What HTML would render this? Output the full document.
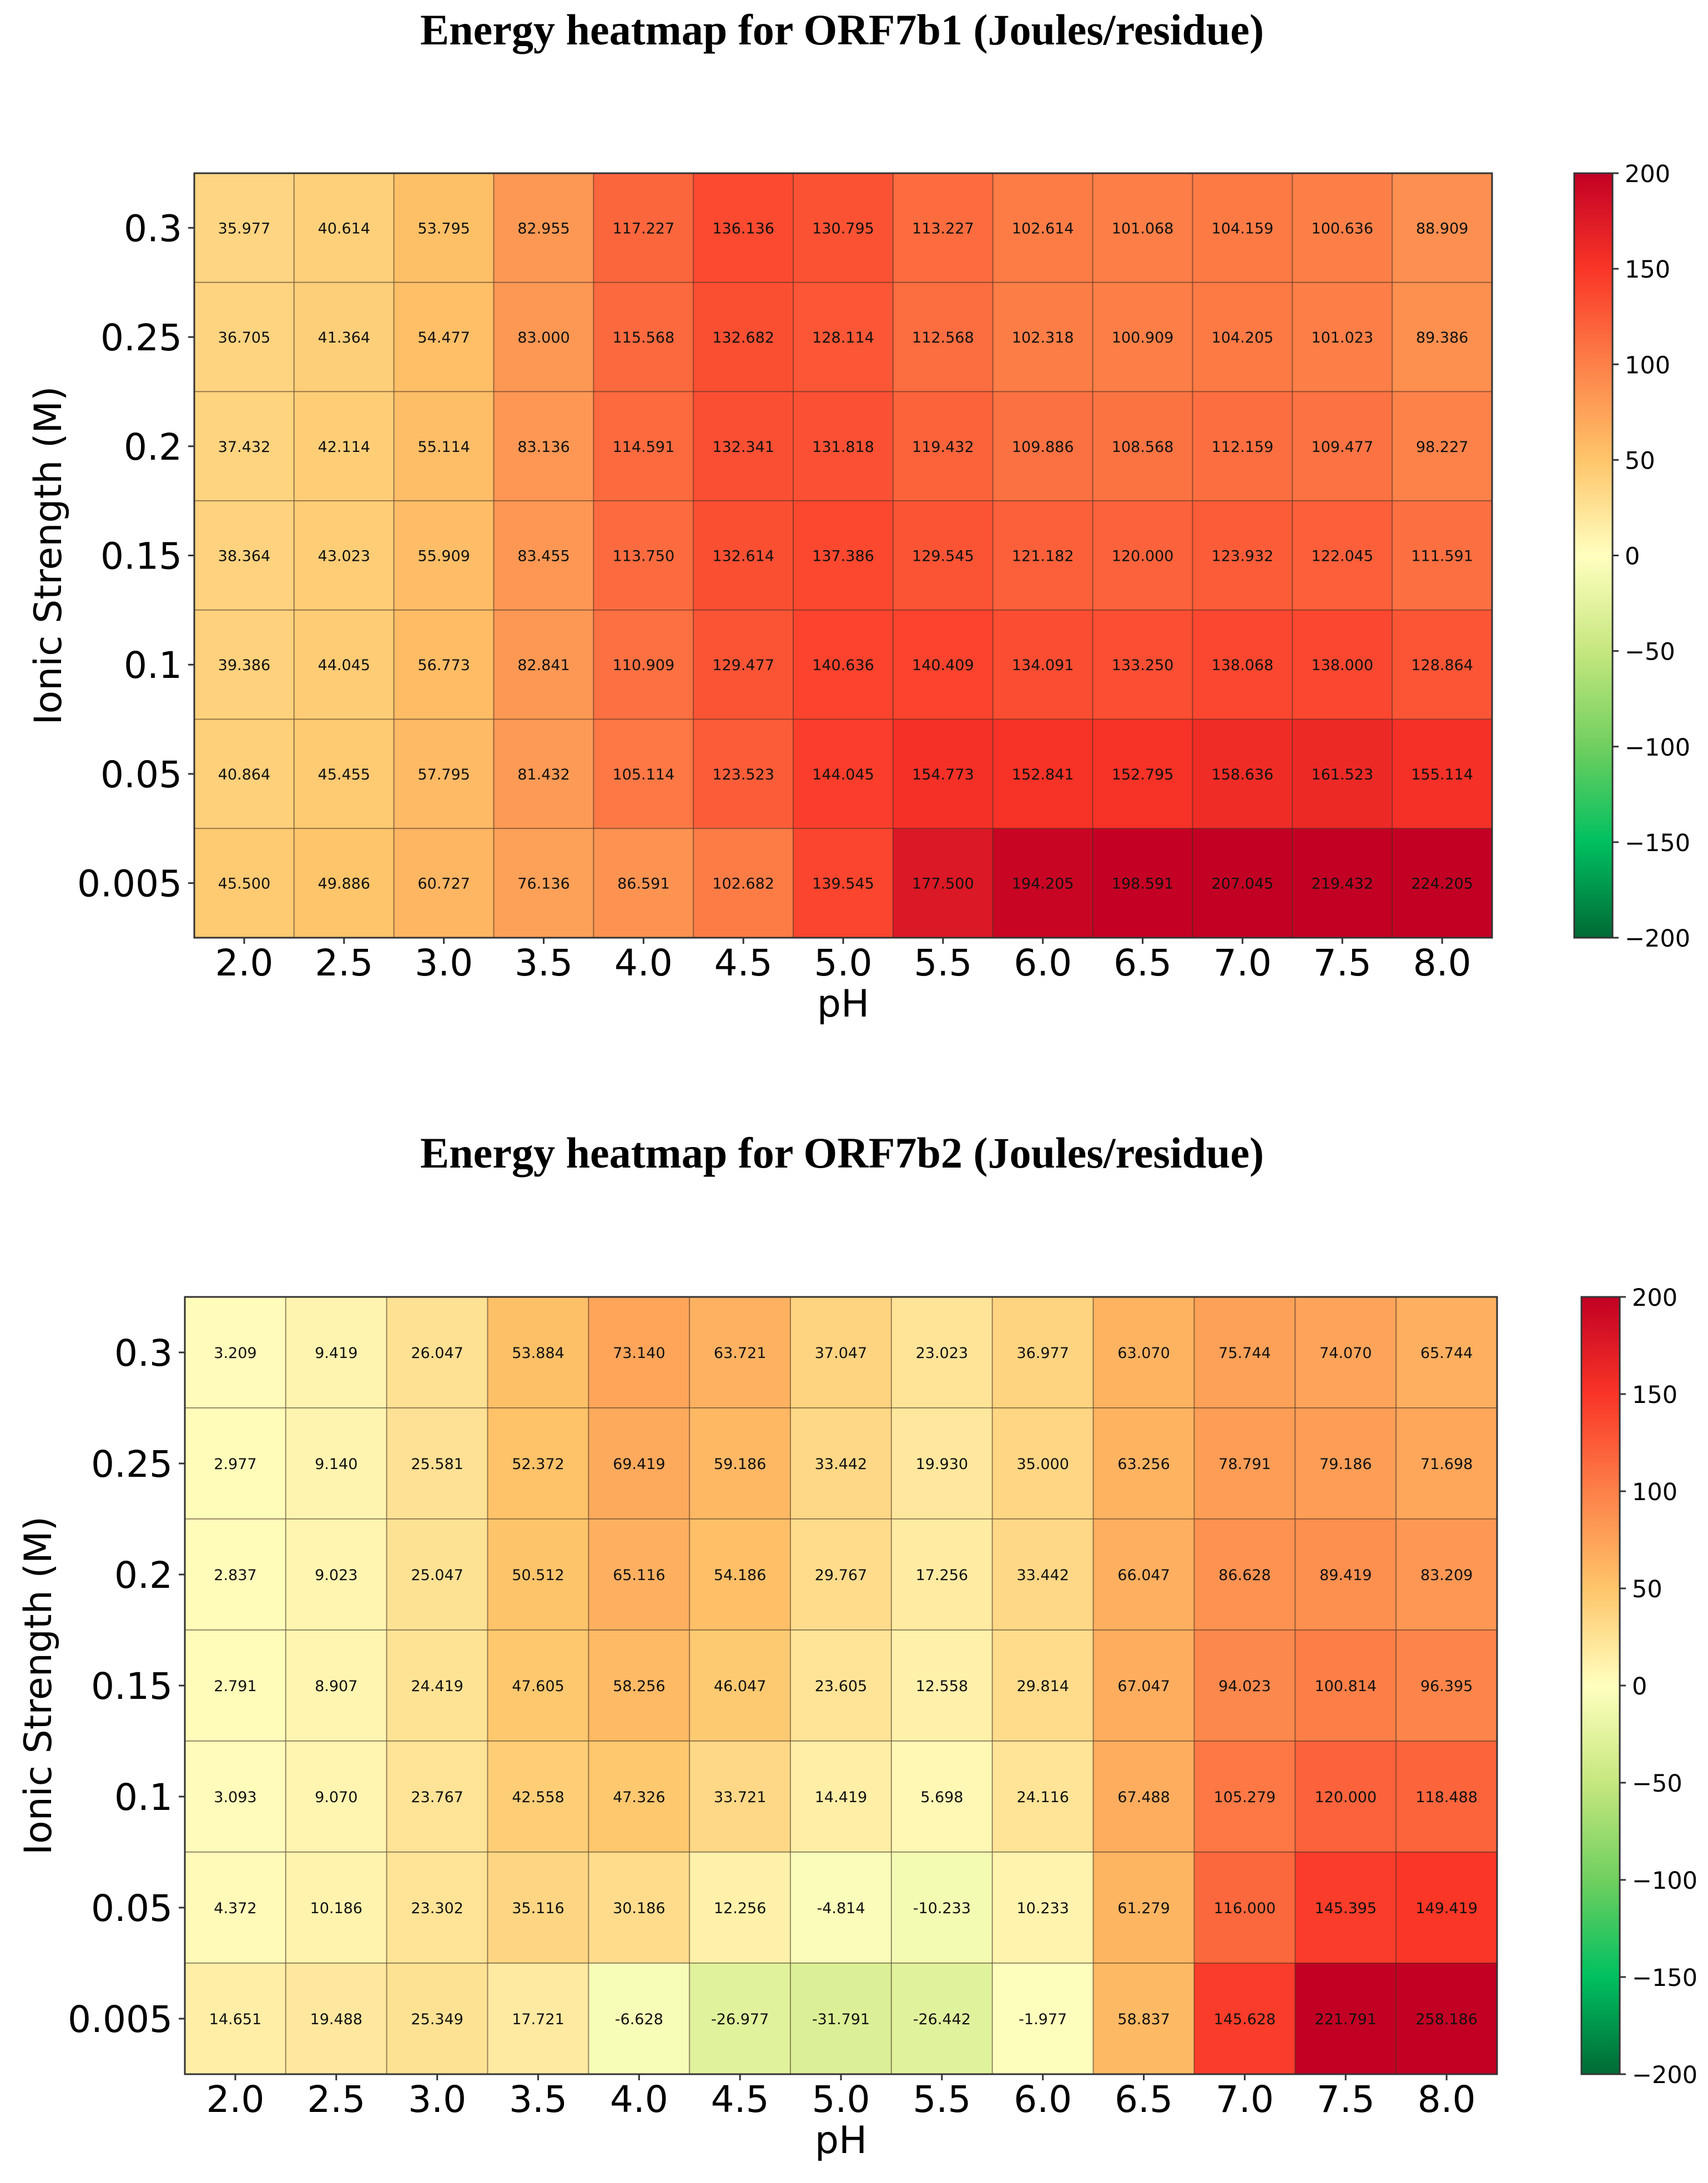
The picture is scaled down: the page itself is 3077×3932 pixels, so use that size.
<!DOCTYPE html>
<html>
<head>
<meta charset="utf-8">
<style>
  html,body{margin:0;padding:0;background:#fff;}
  svg{display:block;}
  .title{font-family:"Liberation Serif",serif;font-weight:bold;font-size:78px;fill:#000;}
  .tick{font-family:"DejaVu Sans","Liberation Sans",sans-serif;font-size:66px;fill:#000;}
  .cbtick{font-family:"DejaVu Sans","Liberation Sans",sans-serif;font-size:43px;fill:#000;}
  .cell-text{font-family:"DejaVu Sans","Liberation Sans",sans-serif;font-size:27px;fill:#111;}
  .axis-title{font-family:"DejaVu Sans","Liberation Sans",sans-serif;font-size:68px;fill:#000;}
</style>
</head>
<body>
<svg id="root" width="3077" height="3932" viewBox="0 0 3077 3932" xmlns="http://www.w3.org/2000/svg">
  <defs>
    <linearGradient id="cbgrad" x1="0" y1="1" x2="0" y2="0">
      <stop offset="0" stop-color="#006a35"/>
      <stop offset="0.125" stop-color="#00c060"/>
      <stop offset="0.25" stop-color="#70cf5f"/>
      <stop offset="0.375" stop-color="#c6e77f"/>
      <stop offset="0.5" stop-color="#ffffbf"/>
      <stop offset="0.625" stop-color="#fec56a"/>
      <stop offset="0.75" stop-color="#fd8048"/>
      <stop offset="0.875" stop-color="#fa3527"/>
      <stop offset="1" stop-color="#c20024"/>
    </linearGradient>
  </defs>
</svg>
<script>
// ---- data ----
const phLabels = ["2.0","2.5","3.0","3.5","4.0","4.5","5.0","5.5","6.0","6.5","7.0","7.5","8.0"];
const ionicLabels = ["0.3","0.25","0.2","0.15","0.1","0.05","0.005"];
const cbTicks = [200,150,100,50,0,-50,-100,-150,-200];
const orf7b1Values = [
  [35.977,40.614,53.795,82.955,117.227,136.136,130.795,113.227,102.614,101.068,104.159,100.636,88.909],
  [36.705,41.364,54.477,83.000,115.568,132.682,128.114,112.568,102.318,100.909,104.205,101.023,89.386],
  [37.432,42.114,55.114,83.136,114.591,132.341,131.818,119.432,109.886,108.568,112.159,109.477,98.227],
  [38.364,43.023,55.909,83.455,113.750,132.614,137.386,129.545,121.182,120.000,123.932,122.045,111.591],
  [39.386,44.045,56.773,82.841,110.909,129.477,140.636,140.409,134.091,133.250,138.068,138.000,128.864],
  [40.864,45.455,57.795,81.432,105.114,123.523,144.045,154.773,152.841,152.795,158.636,161.523,155.114],
  [45.500,49.886,60.727,76.136,86.591,102.682,139.545,177.500,194.205,198.591,207.045,219.432,224.205]
];
const orf7b2Values = [
  [3.209,9.419,26.047,53.884,73.140,63.721,37.047,23.023,36.977,63.070,75.744,74.070,65.744],
  [2.977,9.140,25.581,52.372,69.419,59.186,33.442,19.930,35.000,63.256,78.791,79.186,71.698],
  [2.837,9.023,25.047,50.512,65.116,54.186,29.767,17.256,33.442,66.047,86.628,89.419,83.209],
  [2.791,8.907,24.419,47.605,58.256,46.047,23.605,12.558,29.814,67.047,94.023,100.814,96.395],
  [3.093,9.070,23.767,42.558,47.326,33.721,14.419,5.698,24.116,67.488,105.279,120.000,118.488],
  [4.372,10.186,23.302,35.116,30.186,12.256,-4.814,-10.233,10.233,61.279,116.000,145.395,149.419],
  [14.651,19.488,25.349,17.721,-6.628,-26.977,-31.791,-26.442,-1.977,58.837,145.628,221.791,258.186]
];

// colormap (value -200..200)
const cmapStops = [
  [-200,[0,106,53]],[-150,[0,192,96]],[-100,[112,207,95]],[-50,[198,231,127]],
  [0,[255,255,191]],[50,[254,197,106]],[100,[253,128,72]],[150,[250,53,39]],[200,[194,0,36]]
];
function colorFor(v){
  v=Math.max(-200,Math.min(200,v));
  for(let i=0;i<cmapStops.length-1;i++){
    const a=cmapStops[i],b=cmapStops[i+1];
    if(v<=b[0]){
      const t=(v-a[0])/(b[0]-a[0]);
      const c=a[1].map((x,k)=>Math.round(x+(b[1][k]-x)*t));
      return `rgb(${c[0]},${c[1]},${c[2]})`;
    }
  }
  return 'rgb(194,0,36)';
}

const NS="http://www.w3.org/2000/svg";
const root=document.getElementById('root');
function mk(tag,attrs,parent){
  const e=document.createElementNS(NS,tag);
  for(const k in attrs) e.setAttribute(k,attrs[k]);
  (parent||root).appendChild(e);
  return e;
}

function drawChart(cfg, values){
  const g=mk('g',{});
  
  
  const nCols=phLabels.length, nRows=ionicLabels.length;
  const cw=(cfg.right-cfg.left)/nCols, rh=(cfg.bottom-cfg.top)/nRows;
  const xPos=i=>cfg.left+i*cw;
  const yPos=j=>cfg.top+j*rh;

  const t=mk('text',{x:cfg.titleX,y:cfg.titleY,'text-anchor':'middle','class':'title',textLength:1520,lengthAdjust:'spacingAndGlyphs'},g);
  t.textContent=cfg.title;
  
  

  for(let j=0;j<nRows;j++){
    for(let i=0;i<nCols;i++){
      const v=values[j][i];
      const r=mk('rect',{x:xPos(i),y:yPos(j),width:cw,height:rh,fill:colorFor(v),stroke:'rgba(60,40,30,0.4)','stroke-width':2},g);
      
      
      const tx=mk('text',{x:xPos(i)+cw/2,y:yPos(j)+rh/2+10,'text-anchor':'middle','class':'cell-text'},g);
      tx.textContent=v.toFixed(3);
      
      
    }
  }
  const frame=mk('rect',{x:cfg.left,y:cfg.top,width:cfg.right-cfg.left,height:cfg.bottom-cfg.top,fill:'none',stroke:'#333','stroke-width':3},g);
  
  

  for(let j=0;j<nRows;j++){
    const y=yPos(j)+rh/2;
    mk('line',{x1:cfg.left-11,x2:cfg.left,y1:y,y2:y,stroke:'#333','stroke-width':3},g);
    const tl=mk('text',{x:cfg.left-22,y:y+24,'text-anchor':'end','class':'tick'},g);
    tl.textContent=ionicLabels[j];
    
    
  }
  for(let i=0;i<nCols;i++){
    const x=xPos(i)+cw/2;
    mk('line',{x1:x,x2:x,y1:cfg.bottom,y2:cfg.bottom+11,stroke:'#333','stroke-width':3},g);
    const tl=mk('text',{x:x,y:cfg.bottom+68,'text-anchor':'middle','class':'tick'},g);
    tl.textContent=phLabels[i];
    
    
  }
  const xl=mk('text',{x:(cfg.left+cfg.right)/2,y:cfg.bottom+142,'text-anchor':'middle','class':'axis-title'},g);
  xl.textContent='pH';
  
  
  const ycx=cfg.yTitleX, ycy=(cfg.top+cfg.bottom)/2;
  const yl=mk('text',{x:ycx,y:ycy,'text-anchor':'middle','class':'axis-title',transform:`rotate(-90 ${ycx} ${ycy})`},g);
  yl.textContent='Ionic Strength (M)';
  
  

  const cbH=cfg.bottom-cfg.top;
  const cb=mk('rect',{x:cfg.cbLeft,y:cfg.top,width:69,height:cbH,fill:'url(#cbgrad)',stroke:'#333','stroke-width':3},g);
  
  
  const cbY=v=>cfg.top+(200-v)/400*cbH;
  for(const v of cbTicks){
    const y=cbY(v);
    mk('line',{x1:cfg.cbLeft+69,x2:cfg.cbLeft+80,y1:y,y2:y,stroke:'#333','stroke-width':3},g);
    const tl=mk('text',{x:cfg.cbLeft+91,y:y+16,'class':'cbtick'},g);
    tl.textContent=(v<0?'\u2212'+Math.abs(v):String(v));
    
    
  }
}

drawChart({name:'orf7b1-heatmap',title:'Energy heatmap for ORF7b1 (Joules/residue)',titleX:1517,titleY:80,
  left:350,right:2688,top:312,bottom:1689,cbLeft:2836,yTitleX:110}, orf7b1Values);
drawChart({name:'orf7b2-heatmap',title:'Energy heatmap for ORF7b2 (Joules/residue)',titleX:1517,titleY:2103,
  left:333,right:2697,top:2336,bottom:3736,cbLeft:2849,yTitleX:92}, orf7b2Values);
</script>
</body>
</html>
